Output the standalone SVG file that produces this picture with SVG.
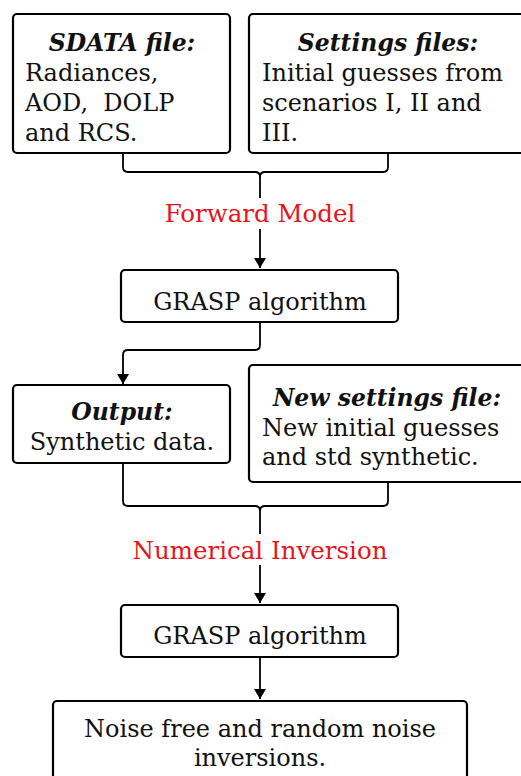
<svg xmlns="http://www.w3.org/2000/svg" width="521" height="776" viewBox="0 0 521 776">
<defs>
<style>
.box{fill:#fff;stroke:#000;stroke-width:2.2}
.t{font-family:"DejaVu Serif","Liberation Serif",serif;font-size:24px;fill:#111}
.h{font-weight:bold;font-style:italic;font-size:23.5px}
.c{text-anchor:middle}
.red{fill:#e8141c;font-size:24.5px}
.ln{fill:none;stroke:#000;stroke-width:1.8}
</style>
<marker id="ah" viewBox="0 0 10 12" markerWidth="10" markerHeight="12" refX="10" refY="6" orient="auto" markerUnits="userSpaceOnUse">
<path d="M0,0 L10,6 L0,12 Z" fill="#000"/>
</marker>
</defs>
<rect width="521" height="776" fill="#fff"/>
<g id="connectors">
<path class="ln" d="M123,153 V167 Q123,172 128,172 H255 Q260,172 260,177 V198"/>
<path class="ln" d="M388,153 V167 Q388,172 383,172 H265 Q260,172 260,177"/>
<path class="ln" d="M260,229 V268" marker-end="url(#ah)"/>
<path class="ln" d="M260,322 V345 Q260,350 255,350 H128 Q123,350 123,355 V384" marker-end="url(#ah)"/>
<path class="ln" d="M123,463 V501 Q123,506 128,506 H255 Q260,506 260,511 V534"/>
<path class="ln" d="M388,482 V501 Q388,506 383,506 H265 Q260,506 260,511"/>
<path class="ln" d="M260,565 V603" marker-end="url(#ah)"/>
<path class="ln" d="M260,657 V699" marker-end="url(#ah)"/>
</g>
<g id="sdata">
<rect class="box" x="13" y="14" width="217" height="139" rx="4"/>
<text class="t h c" x="122" y="51">SDATA file:</text>
<text class="t" x="25" y="81">Radiances,</text>
<text class="t" x="25" y="111" xml:space="preserve">AOD,  DOLP</text>
<text class="t" x="25" y="141">and RCS.</text>
</g>
<g id="settings">
<rect class="box" x="249" y="14" width="280" height="139" rx="4"/>
<text class="t h c" x="388" y="51">Settings files:</text>
<text class="t" x="262" y="81">Initial guesses from</text>
<text class="t" x="262" y="111">scenarios I, II and</text>
<text class="t" x="262" y="141">III.</text>
</g>
<g id="fwdlabel">
<text class="t c red" x="260" y="222">Forward Model</text>
</g>
<g id="grasp1">
<rect class="box" x="121" y="270" width="277" height="52" rx="4"/>
<text class="t c" x="260" y="310">GRASP algorithm</text>
</g>
<g id="output">
<rect class="box" x="13" y="385" width="217" height="78" rx="4"/>
<text class="t h c" x="122" y="420">Output:</text>
<text class="t c" x="122" y="450">Synthetic data.</text>
</g>
<g id="newsettings">
<rect class="box" x="249" y="365" width="280" height="117" rx="4"/>
<text class="t h c" x="387" y="406">New settings file:</text>
<text class="t" x="262" y="436">New initial guesses</text>
<text class="t" x="262" y="465">and std synthetic.</text>
</g>
<g id="numlabel">
<text class="t c red" x="260" y="559">Numerical Inversion</text>
</g>
<g id="grasp2">
<rect class="box" x="121" y="605" width="277" height="52" rx="4"/>
<text class="t c" x="260" y="644">GRASP algorithm</text>
</g>
<g id="final">
<rect class="box" x="53" y="701" width="414" height="85" rx="4"/>
<text class="t c" x="260" y="737">Noise free and random noise</text>
<text class="t c" x="260" y="766">inversions.</text>
</g>
</svg>
